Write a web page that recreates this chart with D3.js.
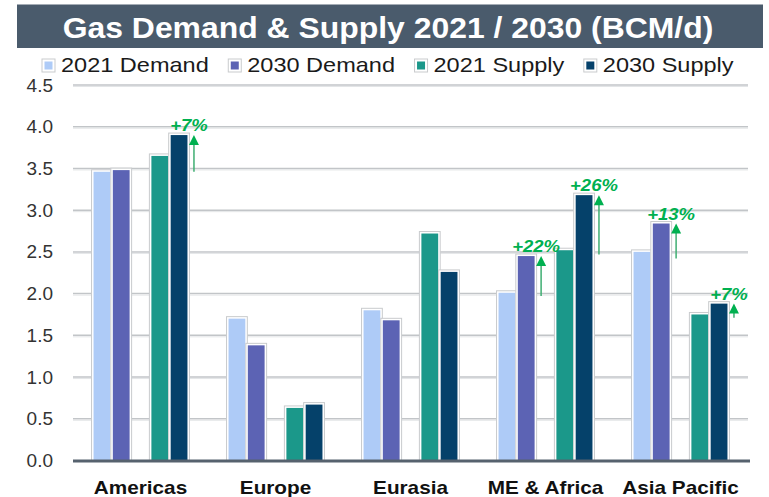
<!DOCTYPE html>
<html>
<head>
<meta charset="utf-8">
<script src="https://cdn.jsdelivr.net/npm/d3@7"></script>
<style>
  body { margin: 0; background: #fff; }
  svg { display: block; font-family: "Liberation Sans", Arial, sans-serif; }
</style>
</head>
<body>
<svg></svg>
<script>
const svg = d3.select('svg');
svg.attr('width', 769).attr('height', 497);

// Data (BCM/d)
const categories = ['Americas', 'Europe', 'Eurasia', 'ME & Africa', 'Asia Pacific'];
const seriesNames = ['2021 Demand', '2030 Demand', '2021 Supply', '2030 Supply'];
const demand2021 = [3.46, 1.70, 1.80, 2.01, 2.50];
const demand2030 = [3.48, 1.38, 1.68, 2.45, 2.84];
const supply2021 = [3.65, 0.63, 2.72, 2.52, 1.75];
const supply2030 = [3.90, 0.67, 2.26, 3.18, 1.88];
const yTicks = [0, 0.5, 1.0, 1.5, 2.0, 2.5, 3.0, 3.5, 4.0, 4.5];

// Growth arrows
const annCategory = ['Americas', 'ME & Africa', 'ME & Africa', 'Asia Pacific', 'Asia Pacific'];
const annSeries = ['2030 Supply', '2030 Demand', '2030 Supply', '2030 Demand', '2030 Supply'];
const annFrom = [3.46, 1.97, 2.47, 2.42, 1.71];
const annLabel = ['+7%', '+22%', '+26%', '+13%', '+7%'];

const colors = ['#aecbf7', '#5c63b4', '#1b988a', '#05416a'];
const values = [demand2021, demand2030, supply2021, supply2030];
const slotOf = [0, 1, 3, 4]; // empty slot 2 between demand and supply
const GREEN = '#00b050';

const LEFT = 73, RIGHT = 748, TOP = 85, BOTTOM = 460.5;

// stretch text horizontally to match the wide look of the original
function stretch(sel, k) {
  sel.each(function () {
    const w = this.getComputedTextLength();
    d3.select(this).attr('textLength', w * k).attr('lengthAdjust', 'spacingAndGlyphs');
  });
}

// Title bar
svg.append('rect')
  .attr('x', 17).attr('y', 4.5).attr('width', 746).attr('height', 43.5)
  .attr('fill', '#4a5b6c');
svg.append('text')
  .attr('x', 388).attr('y', 37.5)
  .attr('text-anchor', 'middle')
  .attr('fill', '#fff')
  .attr('font-size', 29).attr('font-weight', 'bold')
  .text('Gas Demand & Supply 2021 / 2030 (BCM/d)')
  .call(stretch, 1.1);

// Scales
const x0 = d3.scaleBand().domain(categories).range([LEFT, RIGHT]);
const x1 = d3.scaleBand().domain([0, 1, 2, 3, 4]).range([0, x0.bandwidth()]).paddingOuter(1);
const y = d3.scaleLinear().domain([0, 4.5]).range([BOTTOM, TOP]);

// Gridlines
const grid = svg.append('g');
grid.selectAll('line.g1').data(yTicks.slice(1)).join('line')
  .attr('x1', LEFT).attr('x2', RIGHT)
  .attr('y1', d => y(d)).attr('y2', d => y(d))
  .attr('stroke', '#c2c5c8').attr('stroke-width', 1.5);
grid.selectAll('line.g2').data(yTicks.slice(1)).join('line')
  .attr('x1', LEFT).attr('x2', RIGHT)
  .attr('y1', d => y(d) + 1.5).attr('y2', d => y(d) + 1.5)
  .attr('stroke', '#e3e5e7').attr('stroke-width', 1);

// Y axis labels
const yAxis = d3.axisLeft(y).tickValues(yTicks).tickFormat(d3.format('.1f')).tickSize(0).tickPadding(20);
const yAxisG = svg.append('g').attr('transform', `translate(${LEFT},0)`).call(yAxis);
yAxisG.select('.domain').remove();
yAxisG.selectAll('text')
  .attr('font-size', 19).attr('fill', '#333')
  .attr('font-family', '"Liberation Sans", Arial, sans-serif');

// Bars
const barW = x1.bandwidth() - 2.5;
seriesNames.forEach((name, i) => {
  const g = svg.append('g');
  g.selectAll('rect.back').data(values[i]).join('rect')
    .attr('x', (d, j) => x0(categories[j]) + x1(slotOf[i]) + 1.25 - 2)
    .attr('y', d => y(d) - 2)
    .attr('width', barW + 4)
    .attr('height', d => BOTTOM - y(d) + 2)
    .attr('fill', '#fff').attr('stroke', '#c9cbcd').attr('stroke-width', 1);
  g.selectAll('rect.bar').data(values[i]).join('rect')
    .attr('x', (d, j) => x0(categories[j]) + x1(slotOf[i]) + 1.25)
    .attr('y', d => y(d))
    .attr('width', barW)
    .attr('height', d => BOTTOM - y(d))
    .attr('fill', colors[i]);
});

// Baseline
svg.append('line')
  .attr('x1', LEFT).attr('x2', RIGHT + 2)
  .attr('y1', BOTTOM + 0.5).attr('y2', BOTTOM + 0.5)
  .attr('stroke', '#56626e').attr('stroke-width', 3);

// X axis labels
const xAxis = d3.axisBottom(x0).tickSize(0).tickPadding(18);
const xAxisG = svg.append('g').attr('transform', `translate(0,${BOTTOM})`).call(xAxis);
xAxisG.select('.domain').remove();
xAxisG.selectAll('text')
  .attr('font-size', 18.5).attr('font-weight', 'bold').attr('fill', '#111')
  .attr('font-family', '"Liberation Sans", Arial, sans-serif')
  .attr('dy', null).attr('y', 33)
  .call(stretch, 1.12);

// Growth annotations
annCategory.forEach((cat, k) => {
  const si = seriesNames.indexOf(annSeries[k]);
  const ci = categories.indexOf(cat);
  const ax = x0(cat) + x1(slotOf[si]) + 1.25 + barW + 6.5;
  const tip = y(values[si][ci]);
  const bot = y(annFrom[k]);
  svg.append('line')
    .attr('x1', ax).attr('x2', ax).attr('y1', bot).attr('y2', tip + 8)
    .attr('stroke', '#3fae72').attr('stroke-width', 1.5);
  svg.append('path')
    .attr('d', `M${ax - 5},${tip + 10} L${ax},${tip} L${ax + 5},${tip + 10} Z`)
    .attr('fill', GREEN);
  svg.append('text')
    .attr('x', ax - 5).attr('y', tip - 4)
    .attr('text-anchor', 'middle')
    .attr('font-size', 16.5).attr('font-weight', 'bold').attr('font-style', 'italic')
    .attr('fill', GREEN)
    .text(annLabel[k])
    .call(stretch, 1.12);
});

// Legend
let lx = 42;
seriesNames.forEach((name, i) => {
  svg.append('rect')
    .attr('x', lx).attr('y', 59).attr('width', 13).attr('height', 13)
    .attr('fill', '#fff').attr('stroke', '#c9cbcd').attr('stroke-width', 1);
  svg.append('rect')
    .attr('x', lx + 2.5).attr('y', 61.5).attr('width', 8).attr('height', 8)
    .attr('fill', colors[i]);
  const t = svg.append('text')
    .attr('x', lx + 19).attr('y', 72)
    .attr('font-size', 21).attr('fill', '#1a1a1a')
    .text(name)
    .call(stretch, 1.12);
  lx += 19 + (+t.attr('textLength')) + 19.5;
});
</script>
</body>
</html>
